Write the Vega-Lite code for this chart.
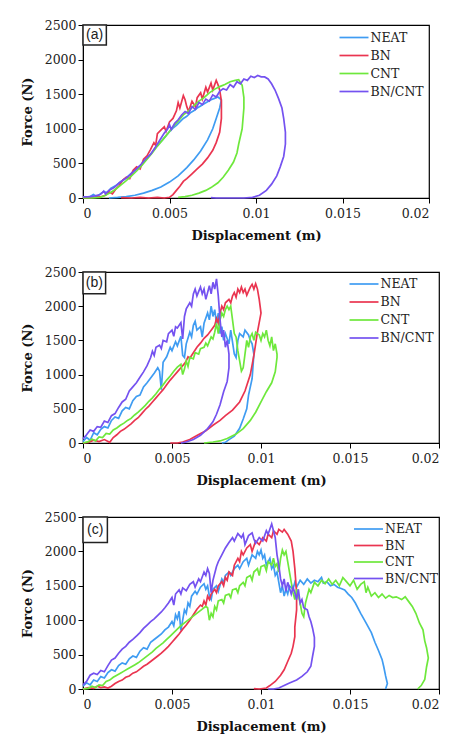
{
"$schema": "https://vega.github.io/schema/vega-lite/v6.json",
"background": "white",
"padding": {"left": 20, "top": 18, "right": 5, "bottom": 5},
"config": {
  "font": "DejaVu Serif",
  "view": {"stroke": "black", "strokeWidth": 1.2},
  "axis": {"grid": false, "labelFont": "DejaVu Serif", "labelFontSize": 12.5, "labelColor": "#222", "labelOverlap": false, "titleFont": "DejaVu Serif", "titleFontSize": 13, "titleFontWeight": "bold", "titleColor": "#111", "domainColor": "black", "tickColor": "black", "tickSize": 5},
  "axisX": {"titlePadding": 10, "labelPadding": 4},
  "axisY": {"titlePadding": 10, "labelPadding": 2},
  "legend": {"orient": "none", "title": null, "symbolType": "M-1.45,0H1.45", "symbolSize": 400, "symbolStrokeWidth": 2.5, "labelFont": "DejaVu Serif", "labelFontSize": 12.5, "labelColor": "#222", "rowPadding": 0, "symbolOffset": 0, "labelOffset": 5.5},
  "line": {"strokeWidth": 1.7}
},
"datasets": {
"a": [
{"s":"NEAT","x":0,"y":10},{"s":"NEAT","x":0.0004,"y":20},{"s":"NEAT","x":0.0006,"y":50},{"s":"NEAT","x":0.0008,"y":20},{"s":"NEAT","x":0.001,"y":60},{"s":"NEAT","x":0.0012,"y":90},{"s":"NEAT","x":0.0014,"y":80},{"s":"NEAT","x":0.0016,"y":140},{"s":"NEAT","x":0.0019,"y":180},{"s":"NEAT","x":0.0022,"y":240},{"s":"NEAT","x":0.0025,"y":290},{"s":"NEAT","x":0.0028,"y":360},{"s":"NEAT","x":0.0031,"y":420},{"s":"NEAT","x":0.0034,"y":490},{"s":"NEAT","x":0.0037,"y":570},{"s":"NEAT","x":0.004,"y":660},{"s":"NEAT","x":0.0043,"y":760},{"s":"NEAT","x":0.0046,"y":840},{"s":"NEAT","x":0.0048,"y":900},{"s":"NEAT","x":0.005,"y":960},{"s":"NEAT","x":0.0052,"y":1010},{"s":"NEAT","x":0.0054,"y":1050},{"s":"NEAT","x":0.0056,"y":1100},{"s":"NEAT","x":0.0058,"y":1150},{"s":"NEAT","x":0.006,"y":1180},{"s":"NEAT","x":0.0062,"y":1230},{"s":"NEAT","x":0.0064,"y":1260},{"s":"NEAT","x":0.0066,"y":1300},{"s":"NEAT","x":0.0068,"y":1330},{"s":"NEAT","x":0.007,"y":1360},{"s":"NEAT","x":0.0072,"y":1390},{"s":"NEAT","x":0.0074,"y":1420},{"s":"NEAT","x":0.0076,"y":1440},{"s":"NEAT","x":0.0078,"y":1460},{"s":"NEAT","x":0.008,"y":1420},{"s":"NEAT","x":0.0079,"y":1300},{"s":"NEAT","x":0.0077,"y":1150},{"s":"NEAT","x":0.0075,"y":1000},{"s":"NEAT","x":0.0072,"y":840},{"s":"NEAT","x":0.0068,"y":680},{"s":"NEAT","x":0.0064,"y":550},{"s":"NEAT","x":0.006,"y":440},{"s":"NEAT","x":0.0055,"y":320},{"s":"NEAT","x":0.005,"y":230},{"s":"NEAT","x":0.0045,"y":160},{"s":"NEAT","x":0.004,"y":110},{"s":"NEAT","x":0.0035,"y":70},{"s":"NEAT","x":0.003,"y":40},{"s":"NEAT","x":0.0025,"y":20},{"s":"NEAT","x":0.002,"y":8},{"s":"NEAT","x":0.0015,"y":0},
{"s":"BN","x":0,"y":0},{"s":"BN","x":0.0005,"y":5},{"s":"BN","x":0.001,"y":15},{"s":"BN","x":0.0013,"y":40},{"s":"BN","x":0.0015,"y":90},{"s":"BN","x":0.0017,"y":60},{"s":"BN","x":0.0019,"y":130},{"s":"BN","x":0.0021,"y":180},{"s":"BN","x":0.0023,"y":260},{"s":"BN","x":0.0025,"y":300},{"s":"BN","x":0.0027,"y":280},{"s":"BN","x":0.0029,"y":400},{"s":"BN","x":0.0031,"y":450},{"s":"BN","x":0.0033,"y":420},{"s":"BN","x":0.0035,"y":560},{"s":"BN","x":0.0037,"y":610},{"s":"BN","x":0.0039,"y":700},{"s":"BN","x":0.0041,"y":800},{"s":"BN","x":0.0042,"y":760},{"s":"BN","x":0.0043,"y":930},{"s":"BN","x":0.0045,"y":980},{"s":"BN","x":0.0047,"y":1030},{"s":"BN","x":0.0048,"y":960},{"s":"BN","x":0.005,"y":1100},{"s":"BN","x":0.0052,"y":1150},{"s":"BN","x":0.0054,"y":1260},{"s":"BN","x":0.0055,"y":1380},{"s":"BN","x":0.0056,"y":1300},{"s":"BN","x":0.0058,"y":1480},{"s":"BN","x":0.0059,"y":1420},{"s":"BN","x":0.006,"y":1320},{"s":"BN","x":0.0061,"y":1250},{"s":"BN","x":0.0063,"y":1400},{"s":"BN","x":0.0065,"y":1320},{"s":"BN","x":0.0066,"y":1450},{"s":"BN","x":0.0068,"y":1520},{"s":"BN","x":0.0069,"y":1430},{"s":"BN","x":0.0071,"y":1600},{"s":"BN","x":0.0072,"y":1530},{"s":"BN","x":0.0074,"y":1660},{"s":"BN","x":0.0075,"y":1560},{"s":"BN","x":0.0077,"y":1700},{"s":"BN","x":0.0078,"y":1640},{"s":"BN","x":0.0079,"y":1560},{"s":"BN","x":0.008,"y":1400},{"s":"BN","x":0.008,"y":1150},{"s":"BN","x":0.0079,"y":950},{"s":"BN","x":0.0077,"y":800},{"s":"BN","x":0.0075,"y":690},{"s":"BN","x":0.0072,"y":580},{"s":"BN","x":0.0069,"y":490},{"s":"BN","x":0.0066,"y":420},{"s":"BN","x":0.0063,"y":350},{"s":"BN","x":0.006,"y":280},{"s":"BN","x":0.0058,"y":240},{"s":"BN","x":0.0056,"y":170},{"s":"BN","x":0.0054,"y":110},{"s":"BN","x":0.0052,"y":50},{"s":"BN","x":0.005,"y":10},{"s":"BN","x":0.0047,"y":0},{"s":"BN","x":0.0043,"y":8},{"s":"BN","x":0.0038,"y":0},{"s":"BN","x":0.0033,"y":10},{"s":"BN","x":0.0028,"y":0},{"s":"BN","x":0.0022,"y":5},
{"s":"CNT","x":0,"y":0},{"s":"CNT","x":0.0005,"y":0},{"s":"CNT","x":0.001,"y":10},{"s":"CNT","x":0.0013,"y":40},{"s":"CNT","x":0.0016,"y":80},{"s":"CNT","x":0.0019,"y":130},{"s":"CNT","x":0.0022,"y":190},{"s":"CNT","x":0.0025,"y":250},{"s":"CNT","x":0.0028,"y":320},{"s":"CNT","x":0.0031,"y":390},{"s":"CNT","x":0.0034,"y":470},{"s":"CNT","x":0.0037,"y":560},{"s":"CNT","x":0.004,"y":650},{"s":"CNT","x":0.0043,"y":750},{"s":"CNT","x":0.0046,"y":840},{"s":"CNT","x":0.0049,"y":930},{"s":"CNT","x":0.0052,"y":1030},{"s":"CNT","x":0.0055,"y":1110},{"s":"CNT","x":0.0058,"y":1200},{"s":"CNT","x":0.0061,"y":1260},{"s":"CNT","x":0.0064,"y":1330},{"s":"CNT","x":0.0067,"y":1400},{"s":"CNT","x":0.007,"y":1450},{"s":"CNT","x":0.0073,"y":1520},{"s":"CNT","x":0.0076,"y":1570},{"s":"CNT","x":0.0079,"y":1610},{"s":"CNT","x":0.0082,"y":1640},{"s":"CNT","x":0.0085,"y":1680},{"s":"CNT","x":0.0088,"y":1700},{"s":"CNT","x":0.009,"y":1710},{"s":"CNT","x":0.0092,"y":1630},{"s":"CNT","x":0.0093,"y":1450},{"s":"CNT","x":0.0093,"y":1300},{"s":"CNT","x":0.0092,"y":1000},{"s":"CNT","x":0.009,"y":780},{"s":"CNT","x":0.0089,"y":650},{"s":"CNT","x":0.0087,"y":520},{"s":"CNT","x":0.0084,"y":400},{"s":"CNT","x":0.0081,"y":300},{"s":"CNT","x":0.0078,"y":220},{"s":"CNT","x":0.0074,"y":150},{"s":"CNT","x":0.0071,"y":110},{"s":"CNT","x":0.0067,"y":70},{"s":"CNT","x":0.0063,"y":40},{"s":"CNT","x":0.0059,"y":20},{"s":"CNT","x":0.0055,"y":10},
{"s":"BN/CNT","x":0,"y":15},{"s":"BN/CNT","x":0.0004,"y":20},{"s":"BN/CNT","x":0.0007,"y":30},{"s":"BN/CNT","x":0.001,"y":50},{"s":"BN/CNT","x":0.0012,"y":100},{"s":"BN/CNT","x":0.0013,"y":60},{"s":"BN/CNT","x":0.0015,"y":110},{"s":"BN/CNT","x":0.0018,"y":150},{"s":"BN/CNT","x":0.0021,"y":220},{"s":"BN/CNT","x":0.0024,"y":270},{"s":"BN/CNT","x":0.0027,"y":330},{"s":"BN/CNT","x":0.003,"y":400},{"s":"BN/CNT","x":0.0033,"y":470},{"s":"BN/CNT","x":0.0036,"y":560},{"s":"BN/CNT","x":0.0039,"y":630},{"s":"BN/CNT","x":0.0042,"y":740},{"s":"BN/CNT","x":0.0045,"y":860},{"s":"BN/CNT","x":0.0047,"y":940},{"s":"BN/CNT","x":0.0049,"y":1000},{"s":"BN/CNT","x":0.005,"y":1060},{"s":"BN/CNT","x":0.0051,"y":990},{"s":"BN/CNT","x":0.0053,"y":1080},{"s":"BN/CNT","x":0.0055,"y":1130},{"s":"BN/CNT","x":0.0057,"y":1200},{"s":"BN/CNT","x":0.0059,"y":1250},{"s":"BN/CNT","x":0.0061,"y":1220},{"s":"BN/CNT","x":0.0063,"y":1320},{"s":"BN/CNT","x":0.0065,"y":1280},{"s":"BN/CNT","x":0.0067,"y":1380},{"s":"BN/CNT","x":0.0069,"y":1350},{"s":"BN/CNT","x":0.0071,"y":1430},{"s":"BN/CNT","x":0.0073,"y":1400},{"s":"BN/CNT","x":0.0075,"y":1490},{"s":"BN/CNT","x":0.0077,"y":1460},{"s":"BN/CNT","x":0.0079,"y":1540},{"s":"BN/CNT","x":0.0081,"y":1580},{"s":"BN/CNT","x":0.0083,"y":1560},{"s":"BN/CNT","x":0.0085,"y":1640},{"s":"BN/CNT","x":0.0087,"y":1600},{"s":"BN/CNT","x":0.0089,"y":1680},{"s":"BN/CNT","x":0.0091,"y":1650},{"s":"BN/CNT","x":0.0093,"y":1720},{"s":"BN/CNT","x":0.0095,"y":1700},{"s":"BN/CNT","x":0.0097,"y":1760},{"s":"BN/CNT","x":0.0099,"y":1740},{"s":"BN/CNT","x":0.0101,"y":1770},{"s":"BN/CNT","x":0.0103,"y":1750},{"s":"BN/CNT","x":0.0105,"y":1750},{"s":"BN/CNT","x":0.0107,"y":1720},{"s":"BN/CNT","x":0.0109,"y":1650},{"s":"BN/CNT","x":0.0111,"y":1560},{"s":"BN/CNT","x":0.0113,"y":1440},{"s":"BN/CNT","x":0.0115,"y":1300},{"s":"BN/CNT","x":0.0116,"y":1150},{"s":"BN/CNT","x":0.0117,"y":950},{"s":"BN/CNT","x":0.0117,"y":780},{"s":"BN/CNT","x":0.0116,"y":600},{"s":"BN/CNT","x":0.0114,"y":450},{"s":"BN/CNT","x":0.0112,"y":320},{"s":"BN/CNT","x":0.0109,"y":200},{"s":"BN/CNT","x":0.0106,"y":110},{"s":"BN/CNT","x":0.0102,"y":40},{"s":"BN/CNT","x":0.0098,"y":10},{"s":"BN/CNT","x":0.0093,"y":0},{"s":"BN/CNT","x":0.0085,"y":0},{"s":"BN/CNT","x":0.0077,"y":0},{"s":"BN/CNT","x":0.0074,"y":5}
],
"b": [
{"s":"NEAT","x":0,"y":20},{"s":"NEAT","x":0.0002,"y":80},{"s":"NEAT","x":0.0004,"y":40},{"s":"NEAT","x":0.0006,"y":150},{"s":"NEAT","x":0.0008,"y":120},{"s":"NEAT","x":0.001,"y":200},{"s":"NEAT","x":0.0012,"y":240},{"s":"NEAT","x":0.0014,"y":220},{"s":"NEAT","x":0.0016,"y":330},{"s":"NEAT","x":0.0018,"y":380},{"s":"NEAT","x":0.002,"y":360},{"s":"NEAT","x":0.0022,"y":470},{"s":"NEAT","x":0.0024,"y":520},{"s":"NEAT","x":0.0026,"y":500},{"s":"NEAT","x":0.0028,"y":620},{"s":"NEAT","x":0.003,"y":680},{"s":"NEAT","x":0.0032,"y":700},{"s":"NEAT","x":0.0034,"y":820},{"s":"NEAT","x":0.0036,"y":880},{"s":"NEAT","x":0.0038,"y":950},{"s":"NEAT","x":0.004,"y":1020},{"s":"NEAT","x":0.0042,"y":1100},{"s":"NEAT","x":0.0043,"y":1050},{"s":"NEAT","x":0.0044,"y":780},{"s":"NEAT","x":0.0045,"y":1180},{"s":"NEAT","x":0.0047,"y":1260},{"s":"NEAT","x":0.0049,"y":1400},{"s":"NEAT","x":0.005,"y":1350},{"s":"NEAT","x":0.0052,"y":1480},{"s":"NEAT","x":0.0053,"y":1420},{"s":"NEAT","x":0.0055,"y":1560},{"s":"NEAT","x":0.0056,"y":1280},{"s":"NEAT","x":0.0057,"y":1250},{"s":"NEAT","x":0.0058,"y":1450},{"s":"NEAT","x":0.006,"y":1620},{"s":"NEAT","x":0.0061,"y":1550},{"s":"NEAT","x":0.0062,"y":1720},{"s":"NEAT","x":0.0063,"y":1780},{"s":"NEAT","x":0.0064,"y":1650},{"s":"NEAT","x":0.0066,"y":1700},{"s":"NEAT","x":0.0067,"y":1550},{"s":"NEAT","x":0.0068,"y":1750},{"s":"NEAT","x":0.007,"y":1900},{"s":"NEAT","x":0.0071,"y":1800},{"s":"NEAT","x":0.0072,"y":2000},{"s":"NEAT","x":0.0073,"y":1850},{"s":"NEAT","x":0.0074,"y":1950},{"s":"NEAT","x":0.0075,"y":1750},{"s":"NEAT","x":0.0076,"y":1900},{"s":"NEAT","x":0.0077,"y":1600},{"s":"NEAT","x":0.0078,"y":1700},{"s":"NEAT","x":0.0079,"y":1500},{"s":"NEAT","x":0.008,"y":1600},{"s":"NEAT","x":0.0082,"y":1450},{"s":"NEAT","x":0.0083,"y":1650},{"s":"NEAT","x":0.0085,"y":1300},{"s":"NEAT","x":0.0086,"y":1250},{"s":"NEAT","x":0.0087,"y":1500},{"s":"NEAT","x":0.0088,"y":1600},{"s":"NEAT","x":0.009,"y":1550},{"s":"NEAT","x":0.0091,"y":1650},{"s":"NEAT","x":0.0093,"y":1580},{"s":"NEAT","x":0.0094,"y":1500},{"s":"NEAT","x":0.0095,"y":1450},{"s":"NEAT","x":0.0096,"y":1300},{"s":"NEAT","x":0.0095,"y":940},{"s":"NEAT","x":0.0093,"y":700},{"s":"NEAT","x":0.0092,"y":500},{"s":"NEAT","x":0.009,"y":350},{"s":"NEAT","x":0.0088,"y":215},{"s":"NEAT","x":0.0085,"y":100},{"s":"NEAT","x":0.0082,"y":50},{"s":"NEAT","x":0.008,"y":10},{"s":"NEAT","x":0.0078,"y":0},
{"s":"BN","x":0,"y":0},{"s":"BN","x":0.0003,"y":10},{"s":"BN","x":0.0006,"y":40},{"s":"BN","x":0.0009,"y":20},{"s":"BN","x":0.0012,"y":50},{"s":"BN","x":0.0015,"y":10},{"s":"BN","x":0.0017,"y":80},{"s":"BN","x":0.0019,"y":120},{"s":"BN","x":0.0021,"y":170},{"s":"BN","x":0.0023,"y":200},{"s":"BN","x":0.0025,"y":240},{"s":"BN","x":0.0027,"y":280},{"s":"BN","x":0.0029,"y":330},{"s":"BN","x":0.0031,"y":370},{"s":"BN","x":0.0033,"y":430},{"s":"BN","x":0.0035,"y":490},{"s":"BN","x":0.0037,"y":540},{"s":"BN","x":0.0039,"y":600},{"s":"BN","x":0.0041,"y":660},{"s":"BN","x":0.0043,"y":720},{"s":"BN","x":0.0045,"y":780},{"s":"BN","x":0.0047,"y":850},{"s":"BN","x":0.0049,"y":920},{"s":"BN","x":0.0051,"y":980},{"s":"BN","x":0.0053,"y":1040},{"s":"BN","x":0.0055,"y":1100},{"s":"BN","x":0.0057,"y":1160},{"s":"BN","x":0.0058,"y":1200},{"s":"BN","x":0.0059,"y":1260},{"s":"BN","x":0.006,"y":1240},{"s":"BN","x":0.0062,"y":1320},{"s":"BN","x":0.0064,"y":1400},{"s":"BN","x":0.0066,"y":1460},{"s":"BN","x":0.0068,"y":1530},{"s":"BN","x":0.007,"y":1580},{"s":"BN","x":0.0072,"y":1650},{"s":"BN","x":0.0074,"y":1720},{"s":"BN","x":0.0075,"y":1820},{"s":"BN","x":0.0076,"y":1750},{"s":"BN","x":0.0077,"y":1900},{"s":"BN","x":0.0078,"y":2000},{"s":"BN","x":0.0079,"y":1950},{"s":"BN","x":0.008,"y":2050},{"s":"BN","x":0.0082,"y":2100},{"s":"BN","x":0.0083,"y":2050},{"s":"BN","x":0.0084,"y":2150},{"s":"BN","x":0.0085,"y":2200},{"s":"BN","x":0.0086,"y":2130},{"s":"BN","x":0.0087,"y":2250},{"s":"BN","x":0.0088,"y":2200},{"s":"BN","x":0.0089,"y":2280},{"s":"BN","x":0.009,"y":2200},{"s":"BN","x":0.0091,"y":2250},{"s":"BN","x":0.0092,"y":2160},{"s":"BN","x":0.0093,"y":2220},{"s":"BN","x":0.0094,"y":2280},{"s":"BN","x":0.0095,"y":2320},{"s":"BN","x":0.0096,"y":2250},{"s":"BN","x":0.0097,"y":2330},{"s":"BN","x":0.0098,"y":2250},{"s":"BN","x":0.0099,"y":2100},{"s":"BN","x":0.01,"y":1900},{"s":"BN","x":0.0098,"y":1620},{"s":"BN","x":0.0096,"y":1280},{"s":"BN","x":0.0094,"y":1000},{"s":"BN","x":0.0091,"y":760},{"s":"BN","x":0.0088,"y":600},{"s":"BN","x":0.0084,"y":480},{"s":"BN","x":0.008,"y":400},{"s":"BN","x":0.0077,"y":330},{"s":"BN","x":0.0073,"y":260},{"s":"BN","x":0.0069,"y":180},{"s":"BN","x":0.0064,"y":110},{"s":"BN","x":0.006,"y":50},{"s":"BN","x":0.0056,"y":15},{"s":"BN","x":0.0053,"y":0},{"s":"BN","x":0.0049,"y":0},
{"s":"CNT","x":0,"y":0},{"s":"CNT","x":0.0003,"y":20},{"s":"CNT","x":0.0005,"y":60},{"s":"CNT","x":0.0007,"y":30},{"s":"CNT","x":0.0009,"y":90},{"s":"CNT","x":0.0011,"y":80},{"s":"CNT","x":0.0013,"y":140},{"s":"CNT","x":0.0015,"y":130},{"s":"CNT","x":0.0017,"y":190},{"s":"CNT","x":0.0019,"y":220},{"s":"CNT","x":0.0021,"y":260},{"s":"CNT","x":0.0023,"y":290},{"s":"CNT","x":0.0025,"y":330},{"s":"CNT","x":0.0027,"y":360},{"s":"CNT","x":0.0029,"y":410},{"s":"CNT","x":0.0031,"y":450},{"s":"CNT","x":0.0033,"y":500},{"s":"CNT","x":0.0035,"y":550},{"s":"CNT","x":0.0037,"y":610},{"s":"CNT","x":0.0039,"y":660},{"s":"CNT","x":0.0041,"y":720},{"s":"CNT","x":0.0043,"y":790},{"s":"CNT","x":0.0045,"y":850},{"s":"CNT","x":0.0047,"y":920},{"s":"CNT","x":0.0049,"y":980},{"s":"CNT","x":0.0051,"y":1050},{"s":"CNT","x":0.0053,"y":1110},{"s":"CNT","x":0.0055,"y":1150},{"s":"CNT","x":0.0056,"y":1000},{"s":"CNT","x":0.0057,"y":1080},{"s":"CNT","x":0.0058,"y":1200},{"s":"CNT","x":0.0059,"y":1120},{"s":"CNT","x":0.006,"y":1250},{"s":"CNT","x":0.0062,"y":1230},{"s":"CNT","x":0.0063,"y":1320},{"s":"CNT","x":0.0065,"y":1300},{"s":"CNT","x":0.0066,"y":1380},{"s":"CNT","x":0.0068,"y":1400},{"s":"CNT","x":0.0069,"y":1460},{"s":"CNT","x":0.007,"y":1420},{"s":"CNT","x":0.0072,"y":1550},{"s":"CNT","x":0.0073,"y":1520},{"s":"CNT","x":0.0074,"y":1620},{"s":"CNT","x":0.0075,"y":1750},{"s":"CNT","x":0.0076,"y":1600},{"s":"CNT","x":0.0077,"y":1800},{"s":"CNT","x":0.0078,"y":1900},{"s":"CNT","x":0.0079,"y":1850},{"s":"CNT","x":0.008,"y":1950},{"s":"CNT","x":0.0081,"y":2000},{"s":"CNT","x":0.0082,"y":1950},{"s":"CNT","x":0.0083,"y":2000},{"s":"CNT","x":0.0084,"y":1800},{"s":"CNT","x":0.0085,"y":1600},{"s":"CNT","x":0.0086,"y":1550},{"s":"CNT","x":0.0087,"y":1350},{"s":"CNT","x":0.0088,"y":1200},{"s":"CNT","x":0.0089,"y":1050},{"s":"CNT","x":0.009,"y":1100},{"s":"CNT","x":0.0091,"y":1300},{"s":"CNT","x":0.0092,"y":1500},{"s":"CNT","x":0.0093,"y":1400},{"s":"CNT","x":0.0094,"y":1550},{"s":"CNT","x":0.0095,"y":1600},{"s":"CNT","x":0.0096,"y":1500},{"s":"CNT","x":0.0097,"y":1620},{"s":"CNT","x":0.0099,"y":1580},{"s":"CNT","x":0.01,"y":1500},{"s":"CNT","x":0.0101,"y":1600},{"s":"CNT","x":0.0102,"y":1550},{"s":"CNT","x":0.0103,"y":1650},{"s":"CNT","x":0.0104,"y":1500},{"s":"CNT","x":0.0105,"y":1420},{"s":"CNT","x":0.0106,"y":1550},{"s":"CNT","x":0.0107,"y":1350},{"s":"CNT","x":0.0108,"y":1450},{"s":"CNT","x":0.0109,"y":1300},{"s":"CNT","x":0.0109,"y":1250},{"s":"CNT","x":0.0108,"y":1040},{"s":"CNT","x":0.0106,"y":880},{"s":"CNT","x":0.0103,"y":750},{"s":"CNT","x":0.01,"y":600},{"s":"CNT","x":0.0097,"y":450},{"s":"CNT","x":0.0094,"y":330},{"s":"CNT","x":0.009,"y":210},{"s":"CNT","x":0.0086,"y":130},{"s":"CNT","x":0.0081,"y":65},{"s":"CNT","x":0.0077,"y":30},{"s":"CNT","x":0.0073,"y":15},{"s":"CNT","x":0.0068,"y":0},
{"s":"BN/CNT","x":0,"y":60},{"s":"BN/CNT","x":0.0002,"y":120},{"s":"BN/CNT","x":0.0004,"y":190},{"s":"BN/CNT","x":0.0006,"y":170},{"s":"BN/CNT","x":0.0008,"y":240},{"s":"BN/CNT","x":0.001,"y":230},{"s":"BN/CNT","x":0.0012,"y":320},{"s":"BN/CNT","x":0.0014,"y":300},{"s":"BN/CNT","x":0.0016,"y":400},{"s":"BN/CNT","x":0.0018,"y":430},{"s":"BN/CNT","x":0.002,"y":520},{"s":"BN/CNT","x":0.0022,"y":600},{"s":"BN/CNT","x":0.0024,"y":640},{"s":"BN/CNT","x":0.0026,"y":760},{"s":"BN/CNT","x":0.0028,"y":820},{"s":"BN/CNT","x":0.003,"y":880},{"s":"BN/CNT","x":0.0032,"y":960},{"s":"BN/CNT","x":0.0034,"y":1040},{"s":"BN/CNT","x":0.0036,"y":1130},{"s":"BN/CNT","x":0.0038,"y":1250},{"s":"BN/CNT","x":0.0039,"y":1340},{"s":"BN/CNT","x":0.004,"y":1280},{"s":"BN/CNT","x":0.0041,"y":1400},{"s":"BN/CNT","x":0.0043,"y":1430},{"s":"BN/CNT","x":0.0044,"y":1380},{"s":"BN/CNT","x":0.0045,"y":1500},{"s":"BN/CNT","x":0.0047,"y":1480},{"s":"BN/CNT","x":0.0048,"y":1600},{"s":"BN/CNT","x":0.005,"y":1650},{"s":"BN/CNT","x":0.0051,"y":1560},{"s":"BN/CNT","x":0.0052,"y":1700},{"s":"BN/CNT","x":0.0053,"y":1680},{"s":"BN/CNT","x":0.0055,"y":1760},{"s":"BN/CNT","x":0.0056,"y":1520},{"s":"BN/CNT","x":0.0057,"y":1850},{"s":"BN/CNT","x":0.0058,"y":1960},{"s":"BN/CNT","x":0.006,"y":2050},{"s":"BN/CNT","x":0.0061,"y":2000},{"s":"BN/CNT","x":0.0062,"y":2180},{"s":"BN/CNT","x":0.0063,"y":2250},{"s":"BN/CNT","x":0.0064,"y":2150},{"s":"BN/CNT","x":0.0066,"y":2280},{"s":"BN/CNT","x":0.0067,"y":2180},{"s":"BN/CNT","x":0.0068,"y":2250},{"s":"BN/CNT","x":0.0069,"y":2100},{"s":"BN/CNT","x":0.0071,"y":2300},{"s":"BN/CNT","x":0.0072,"y":2180},{"s":"BN/CNT","x":0.0073,"y":2350},{"s":"BN/CNT","x":0.0074,"y":2250},{"s":"BN/CNT","x":0.0075,"y":2400},{"s":"BN/CNT","x":0.0076,"y":2150},{"s":"BN/CNT","x":0.0077,"y":1800},{"s":"BN/CNT","x":0.0078,"y":1550},{"s":"BN/CNT","x":0.0079,"y":1650},{"s":"BN/CNT","x":0.008,"y":1400},{"s":"BN/CNT","x":0.0081,"y":1500},{"s":"BN/CNT","x":0.0082,"y":1300},{"s":"BN/CNT","x":0.0082,"y":1100},{"s":"BN/CNT","x":0.0081,"y":900},{"s":"BN/CNT","x":0.0079,"y":750},{"s":"BN/CNT","x":0.0077,"y":560},{"s":"BN/CNT","x":0.0075,"y":420},{"s":"BN/CNT","x":0.0073,"y":310},{"s":"BN/CNT","x":0.007,"y":210},{"s":"BN/CNT","x":0.0066,"y":113},{"s":"BN/CNT","x":0.0062,"y":50},{"s":"BN/CNT","x":0.0058,"y":15},{"s":"BN/CNT","x":0.0055,"y":0}
],
"c": [
{"s":"NEAT","x":0,"y":40},{"s":"NEAT","x":0.0002,"y":90},{"s":"NEAT","x":0.0004,"y":60},{"s":"NEAT","x":0.0006,"y":130},{"s":"NEAT","x":0.0008,"y":110},{"s":"NEAT","x":0.001,"y":180},{"s":"NEAT","x":0.0012,"y":160},{"s":"NEAT","x":0.0014,"y":240},{"s":"NEAT","x":0.0016,"y":280},{"s":"NEAT","x":0.0018,"y":260},{"s":"NEAT","x":0.002,"y":340},{"s":"NEAT","x":0.0022,"y":380},{"s":"NEAT","x":0.0024,"y":360},{"s":"NEAT","x":0.0026,"y":440},{"s":"NEAT","x":0.0028,"y":480},{"s":"NEAT","x":0.003,"y":460},{"s":"NEAT","x":0.0032,"y":550},{"s":"NEAT","x":0.0034,"y":600},{"s":"NEAT","x":0.0036,"y":580},{"s":"NEAT","x":0.0038,"y":680},{"s":"NEAT","x":0.004,"y":720},{"s":"NEAT","x":0.0042,"y":760},{"s":"NEAT","x":0.0044,"y":800},{"s":"NEAT","x":0.0046,"y":860},{"s":"NEAT","x":0.0048,"y":900},{"s":"NEAT","x":0.005,"y":980},{"s":"NEAT","x":0.0051,"y":920},{"s":"NEAT","x":0.0052,"y":1080},{"s":"NEAT","x":0.0053,"y":1020},{"s":"NEAT","x":0.0054,"y":1130},{"s":"NEAT","x":0.0055,"y":850},{"s":"NEAT","x":0.0056,"y":1000},{"s":"NEAT","x":0.0057,"y":1150},{"s":"NEAT","x":0.0058,"y":1100},{"s":"NEAT","x":0.0059,"y":1250},{"s":"NEAT","x":0.006,"y":1200},{"s":"NEAT","x":0.0061,"y":1350},{"s":"NEAT","x":0.0063,"y":1420},{"s":"NEAT","x":0.0064,"y":1380},{"s":"NEAT","x":0.0066,"y":1480},{"s":"NEAT","x":0.0068,"y":1530},{"s":"NEAT","x":0.0069,"y":1450},{"s":"NEAT","x":0.007,"y":1500},{"s":"NEAT","x":0.0071,"y":1350},{"s":"NEAT","x":0.0072,"y":1300},{"s":"NEAT","x":0.0073,"y":1450},{"s":"NEAT","x":0.0075,"y":1500},{"s":"NEAT","x":0.0076,"y":1420},{"s":"NEAT","x":0.0078,"y":1600},{"s":"NEAT","x":0.0079,"y":1550},{"s":"NEAT","x":0.008,"y":1650},{"s":"NEAT","x":0.0082,"y":1700},{"s":"NEAT","x":0.0083,"y":1650},{"s":"NEAT","x":0.0085,"y":1750},{"s":"NEAT","x":0.0087,"y":1800},{"s":"NEAT","x":0.0088,"y":1750},{"s":"NEAT","x":0.009,"y":1850},{"s":"NEAT","x":0.0092,"y":1900},{"s":"NEAT","x":0.0093,"y":1800},{"s":"NEAT","x":0.0095,"y":1950},{"s":"NEAT","x":0.0097,"y":1900},{"s":"NEAT","x":0.0098,"y":2000},{"s":"NEAT","x":0.0099,"y":1950},{"s":"NEAT","x":0.01,"y":2020},{"s":"NEAT","x":0.0101,"y":1900},{"s":"NEAT","x":0.0102,"y":1950},{"s":"NEAT","x":0.0103,"y":1800},{"s":"NEAT","x":0.0105,"y":1900},{"s":"NEAT","x":0.0106,"y":1750},{"s":"NEAT","x":0.0107,"y":1800},{"s":"NEAT","x":0.0108,"y":1650},{"s":"NEAT","x":0.0109,"y":1700},{"s":"NEAT","x":0.011,"y":1550},{"s":"NEAT","x":0.0111,"y":1400},{"s":"NEAT","x":0.0112,"y":1500},{"s":"NEAT","x":0.0113,"y":1350},{"s":"NEAT","x":0.0114,"y":1450},{"s":"NEAT","x":0.0115,"y":1380},{"s":"NEAT","x":0.0116,"y":1500},{"s":"NEAT","x":0.0118,"y":1450},{"s":"NEAT","x":0.0119,"y":1550},{"s":"NEAT","x":0.012,"y":1480},{"s":"NEAT","x":0.0122,"y":1580},{"s":"NEAT","x":0.0124,"y":1520},{"s":"NEAT","x":0.0126,"y":1600},{"s":"NEAT","x":0.0128,"y":1540},{"s":"NEAT","x":0.013,"y":1580},{"s":"NEAT","x":0.0132,"y":1560},{"s":"NEAT","x":0.0134,"y":1620},{"s":"NEAT","x":0.0135,"y":1540},{"s":"NEAT","x":0.0137,"y":1560},{"s":"NEAT","x":0.0139,"y":1500},{"s":"NEAT","x":0.0141,"y":1520},{"s":"NEAT","x":0.0143,"y":1480},{"s":"NEAT","x":0.0145,"y":1460},{"s":"NEAT","x":0.0147,"y":1440},{"s":"NEAT","x":0.0149,"y":1380},{"s":"NEAT","x":0.0151,"y":1330},{"s":"NEAT","x":0.0153,"y":1250},{"s":"NEAT","x":0.0156,"y":1100},{"s":"NEAT","x":0.0159,"y":960},{"s":"NEAT","x":0.0162,"y":820},{"s":"NEAT","x":0.0164,"y":680},{"s":"NEAT","x":0.0166,"y":560},{"s":"NEAT","x":0.0168,"y":430},{"s":"NEAT","x":0.0169,"y":320},{"s":"NEAT","x":0.017,"y":190},{"s":"NEAT","x":0.0171,"y":80},{"s":"NEAT","x":0.017,"y":0},
{"s":"BN","x":0,"y":0},{"s":"BN","x":0.0003,"y":20},{"s":"BN","x":0.0006,"y":10},{"s":"BN","x":0.0008,"y":40},{"s":"BN","x":0.001,"y":20},{"s":"BN","x":0.0012,"y":30},{"s":"BN","x":0.0014,"y":15},{"s":"BN","x":0.0016,"y":40},{"s":"BN","x":0.0018,"y":80},{"s":"BN","x":0.002,"y":110},{"s":"BN","x":0.0022,"y":130},{"s":"BN","x":0.0024,"y":170},{"s":"BN","x":0.0026,"y":190},{"s":"BN","x":0.0028,"y":230},{"s":"BN","x":0.003,"y":250},{"s":"BN","x":0.0032,"y":290},{"s":"BN","x":0.0034,"y":330},{"s":"BN","x":0.0036,"y":360},{"s":"BN","x":0.0038,"y":400},{"s":"BN","x":0.004,"y":440},{"s":"BN","x":0.0042,"y":480},{"s":"BN","x":0.0044,"y":520},{"s":"BN","x":0.0046,"y":570},{"s":"BN","x":0.0048,"y":620},{"s":"BN","x":0.005,"y":680},{"s":"BN","x":0.0052,"y":740},{"s":"BN","x":0.0054,"y":800},{"s":"BN","x":0.0056,"y":870},{"s":"BN","x":0.0058,"y":930},{"s":"BN","x":0.006,"y":1000},{"s":"BN","x":0.0062,"y":1080},{"s":"BN","x":0.0064,"y":1160},{"s":"BN","x":0.0066,"y":1220},{"s":"BN","x":0.0067,"y":1200},{"s":"BN","x":0.0068,"y":1280},{"s":"BN","x":0.0069,"y":1220},{"s":"BN","x":0.007,"y":1350},{"s":"BN","x":0.0071,"y":1300},{"s":"BN","x":0.0072,"y":1380},{"s":"BN","x":0.0074,"y":1450},{"s":"BN","x":0.0075,"y":1400},{"s":"BN","x":0.0076,"y":1500},{"s":"BN","x":0.0078,"y":1560},{"s":"BN","x":0.0079,"y":1500},{"s":"BN","x":0.008,"y":1620},{"s":"BN","x":0.0081,"y":1580},{"s":"BN","x":0.0082,"y":1700},{"s":"BN","x":0.0084,"y":1650},{"s":"BN","x":0.0085,"y":1800},{"s":"BN","x":0.0087,"y":1900},{"s":"BN","x":0.0088,"y":1850},{"s":"BN","x":0.0089,"y":2000},{"s":"BN","x":0.009,"y":1950},{"s":"BN","x":0.0092,"y":2050},{"s":"BN","x":0.0094,"y":2100},{"s":"BN","x":0.0095,"y":2000},{"s":"BN","x":0.0097,"y":2150},{"s":"BN","x":0.0099,"y":2100},{"s":"BN","x":0.0101,"y":2200},{"s":"BN","x":0.0103,"y":2150},{"s":"BN","x":0.0104,"y":2250},{"s":"BN","x":0.0106,"y":2200},{"s":"BN","x":0.0107,"y":2300},{"s":"BN","x":0.0109,"y":2250},{"s":"BN","x":0.011,"y":2320},{"s":"BN","x":0.0112,"y":2280},{"s":"BN","x":0.0113,"y":2320},{"s":"BN","x":0.0115,"y":2250},{"s":"BN","x":0.0117,"y":2150},{"s":"BN","x":0.0118,"y":2000},{"s":"BN","x":0.0119,"y":1750},{"s":"BN","x":0.012,"y":1400},{"s":"BN","x":0.012,"y":1150},{"s":"BN","x":0.0119,"y":900},{"s":"BN","x":0.0119,"y":760},{"s":"BN","x":0.0118,"y":620},{"s":"BN","x":0.0117,"y":520},{"s":"BN","x":0.0115,"y":400},{"s":"BN","x":0.0113,"y":280},{"s":"BN","x":0.0111,"y":200},{"s":"BN","x":0.0108,"y":110},{"s":"BN","x":0.0105,"y":50},{"s":"BN","x":0.0103,"y":15},{"s":"BN","x":0.0099,"y":0},{"s":"BN","x":0.0096,"y":5},
{"s":"CNT","x":0,"y":0},{"s":"CNT","x":0.0003,"y":10},{"s":"CNT","x":0.0005,"y":40},{"s":"CNT","x":0.0007,"y":20},{"s":"CNT","x":0.0009,"y":60},{"s":"CNT","x":0.0011,"y":50},{"s":"CNT","x":0.0013,"y":110},{"s":"CNT","x":0.0015,"y":130},{"s":"CNT","x":0.0017,"y":170},{"s":"CNT","x":0.0019,"y":200},{"s":"CNT","x":0.0021,"y":230},{"s":"CNT","x":0.0023,"y":260},{"s":"CNT","x":0.0025,"y":290},{"s":"CNT","x":0.0027,"y":320},{"s":"CNT","x":0.0029,"y":350},{"s":"CNT","x":0.0031,"y":380},{"s":"CNT","x":0.0033,"y":420},{"s":"CNT","x":0.0035,"y":460},{"s":"CNT","x":0.0037,"y":500},{"s":"CNT","x":0.0039,"y":540},{"s":"CNT","x":0.0041,"y":590},{"s":"CNT","x":0.0043,"y":630},{"s":"CNT","x":0.0045,"y":670},{"s":"CNT","x":0.0047,"y":720},{"s":"CNT","x":0.0049,"y":770},{"s":"CNT","x":0.0051,"y":820},{"s":"CNT","x":0.0053,"y":870},{"s":"CNT","x":0.0055,"y":920},{"s":"CNT","x":0.0057,"y":960},{"s":"CNT","x":0.0059,"y":1000},{"s":"CNT","x":0.0061,"y":1040},{"s":"CNT","x":0.0063,"y":1080},{"s":"CNT","x":0.0065,"y":1120},{"s":"CNT","x":0.0067,"y":1160},{"s":"CNT","x":0.0069,"y":1200},{"s":"CNT","x":0.007,"y":1180},{"s":"CNT","x":0.0071,"y":1000},{"s":"CNT","x":0.0072,"y":1100},{"s":"CNT","x":0.0073,"y":1050},{"s":"CNT","x":0.0074,"y":1200},{"s":"CNT","x":0.0075,"y":1150},{"s":"CNT","x":0.0076,"y":1280},{"s":"CNT","x":0.0078,"y":1300},{"s":"CNT","x":0.0079,"y":1250},{"s":"CNT","x":0.008,"y":1360},{"s":"CNT","x":0.0082,"y":1380},{"s":"CNT","x":0.0083,"y":1330},{"s":"CNT","x":0.0084,"y":1440},{"s":"CNT","x":0.0086,"y":1460},{"s":"CNT","x":0.0087,"y":1400},{"s":"CNT","x":0.0088,"y":1500},{"s":"CNT","x":0.009,"y":1550},{"s":"CNT","x":0.0091,"y":1500},{"s":"CNT","x":0.0092,"y":1620},{"s":"CNT","x":0.0094,"y":1650},{"s":"CNT","x":0.0095,"y":1580},{"s":"CNT","x":0.0096,"y":1700},{"s":"CNT","x":0.0098,"y":1750},{"s":"CNT","x":0.0099,"y":1650},{"s":"CNT","x":0.01,"y":1780},{"s":"CNT","x":0.0102,"y":1800},{"s":"CNT","x":0.0103,"y":1720},{"s":"CNT","x":0.0104,"y":1850},{"s":"CNT","x":0.0106,"y":1800},{"s":"CNT","x":0.0107,"y":1900},{"s":"CNT","x":0.0108,"y":1780},{"s":"CNT","x":0.0109,"y":1820},{"s":"CNT","x":0.011,"y":1700},{"s":"CNT","x":0.0111,"y":1900},{"s":"CNT","x":0.0112,"y":2020},{"s":"CNT","x":0.0113,"y":1950},{"s":"CNT","x":0.0114,"y":2000},{"s":"CNT","x":0.0115,"y":1850},{"s":"CNT","x":0.0116,"y":1700},{"s":"CNT","x":0.0117,"y":1550},{"s":"CNT","x":0.0118,"y":1400},{"s":"CNT","x":0.0119,"y":1300},{"s":"CNT","x":0.012,"y":1450},{"s":"CNT","x":0.0121,"y":1350},{"s":"CNT","x":0.0122,"y":1250},{"s":"CNT","x":0.0123,"y":1100},{"s":"CNT","x":0.0124,"y":1050},{"s":"CNT","x":0.0125,"y":1250},{"s":"CNT","x":0.0126,"y":1350},{"s":"CNT","x":0.0127,"y":1450},{"s":"CNT","x":0.0128,"y":1400},{"s":"CNT","x":0.013,"y":1550},{"s":"CNT","x":0.0132,"y":1500},{"s":"CNT","x":0.0134,"y":1580},{"s":"CNT","x":0.0136,"y":1530},{"s":"CNT","x":0.0138,"y":1600},{"s":"CNT","x":0.014,"y":1520},{"s":"CNT","x":0.0142,"y":1580},{"s":"CNT","x":0.0144,"y":1500},{"s":"CNT","x":0.0146,"y":1620},{"s":"CNT","x":0.0148,"y":1560},{"s":"CNT","x":0.015,"y":1500},{"s":"CNT","x":0.0152,"y":1580},{"s":"CNT","x":0.0154,"y":1450},{"s":"CNT","x":0.0156,"y":1520},{"s":"CNT","x":0.0158,"y":1560},{"s":"CNT","x":0.0159,"y":1400},{"s":"CNT","x":0.016,"y":1480},{"s":"CNT","x":0.0162,"y":1350},{"s":"CNT","x":0.0164,"y":1400},{"s":"CNT","x":0.0166,"y":1330},{"s":"CNT","x":0.0168,"y":1380},{"s":"CNT","x":0.017,"y":1320},{"s":"CNT","x":0.0172,"y":1360},{"s":"CNT","x":0.0174,"y":1330},{"s":"CNT","x":0.0176,"y":1340},{"s":"CNT","x":0.0179,"y":1300},{"s":"CNT","x":0.0181,"y":1340},{"s":"CNT","x":0.0183,"y":1270},{"s":"CNT","x":0.0185,"y":1200},{"s":"CNT","x":0.0187,"y":1100},{"s":"CNT","x":0.0189,"y":960},{"s":"CNT","x":0.0191,"y":860},{"s":"CNT","x":0.0192,"y":700},{"s":"CNT","x":0.0193,"y":600},{"s":"CNT","x":0.0194,"y":450},{"s":"CNT","x":0.0193,"y":320},{"s":"CNT","x":0.0192,"y":140},{"s":"CNT","x":0.019,"y":50},{"s":"CNT","x":0.0188,"y":0},
{"s":"BN/CNT","x":0,"y":60},{"s":"BN/CNT","x":0.0002,"y":110},{"s":"BN/CNT","x":0.0004,"y":200},{"s":"BN/CNT","x":0.0006,"y":230},{"s":"BN/CNT","x":0.0008,"y":210},{"s":"BN/CNT","x":0.001,"y":270},{"s":"BN/CNT","x":0.0012,"y":250},{"s":"BN/CNT","x":0.0014,"y":340},{"s":"BN/CNT","x":0.0016,"y":420},{"s":"BN/CNT","x":0.0018,"y":450},{"s":"BN/CNT","x":0.002,"y":520},{"s":"BN/CNT","x":0.0022,"y":580},{"s":"BN/CNT","x":0.0024,"y":620},{"s":"BN/CNT","x":0.0026,"y":680},{"s":"BN/CNT","x":0.0028,"y":720},{"s":"BN/CNT","x":0.003,"y":770},{"s":"BN/CNT","x":0.0032,"y":820},{"s":"BN/CNT","x":0.0034,"y":880},{"s":"BN/CNT","x":0.0036,"y":930},{"s":"BN/CNT","x":0.0038,"y":980},{"s":"BN/CNT","x":0.004,"y":1020},{"s":"BN/CNT","x":0.0042,"y":1070},{"s":"BN/CNT","x":0.0044,"y":1120},{"s":"BN/CNT","x":0.0046,"y":1180},{"s":"BN/CNT","x":0.0048,"y":1250},{"s":"BN/CNT","x":0.005,"y":1330},{"s":"BN/CNT","x":0.0051,"y":1220},{"s":"BN/CNT","x":0.0052,"y":1380},{"s":"BN/CNT","x":0.0054,"y":1440},{"s":"BN/CNT","x":0.0055,"y":1380},{"s":"BN/CNT","x":0.0056,"y":1470},{"s":"BN/CNT","x":0.0058,"y":1430},{"s":"BN/CNT","x":0.006,"y":1520},{"s":"BN/CNT","x":0.0062,"y":1560},{"s":"BN/CNT","x":0.0063,"y":1480},{"s":"BN/CNT","x":0.0065,"y":1600},{"s":"BN/CNT","x":0.0066,"y":1560},{"s":"BN/CNT","x":0.0068,"y":1700},{"s":"BN/CNT","x":0.0069,"y":1650},{"s":"BN/CNT","x":0.007,"y":1750},{"s":"BN/CNT","x":0.0071,"y":1680},{"s":"BN/CNT","x":0.0072,"y":1400},{"s":"BN/CNT","x":0.0073,"y":1580},{"s":"BN/CNT","x":0.0075,"y":1780},{"s":"BN/CNT","x":0.0076,"y":1850},{"s":"BN/CNT","x":0.0078,"y":1950},{"s":"BN/CNT","x":0.008,"y":2050},{"s":"BN/CNT","x":0.0082,"y":2130},{"s":"BN/CNT","x":0.0084,"y":2200},{"s":"BN/CNT","x":0.0085,"y":2150},{"s":"BN/CNT","x":0.0087,"y":2260},{"s":"BN/CNT","x":0.0089,"y":2200},{"s":"BN/CNT","x":0.009,"y":2250},{"s":"BN/CNT","x":0.0091,"y":2100},{"s":"BN/CNT","x":0.0093,"y":2230},{"s":"BN/CNT","x":0.0095,"y":2270},{"s":"BN/CNT","x":0.0096,"y":2180},{"s":"BN/CNT","x":0.0097,"y":2120},{"s":"BN/CNT","x":0.0099,"y":2200},{"s":"BN/CNT","x":0.0101,"y":2150},{"s":"BN/CNT","x":0.0103,"y":2300},{"s":"BN/CNT","x":0.0104,"y":2250},{"s":"BN/CNT","x":0.0106,"y":2400},{"s":"BN/CNT","x":0.0107,"y":2300},{"s":"BN/CNT","x":0.0108,"y":2200},{"s":"BN/CNT","x":0.0109,"y":1950},{"s":"BN/CNT","x":0.011,"y":1800},{"s":"BN/CNT","x":0.0111,"y":1600},{"s":"BN/CNT","x":0.0112,"y":1500},{"s":"BN/CNT","x":0.0113,"y":1600},{"s":"BN/CNT","x":0.0114,"y":1420},{"s":"BN/CNT","x":0.0115,"y":1550},{"s":"BN/CNT","x":0.0117,"y":1380},{"s":"BN/CNT","x":0.0118,"y":1480},{"s":"BN/CNT","x":0.0119,"y":1400},{"s":"BN/CNT","x":0.012,"y":1300},{"s":"BN/CNT","x":0.0121,"y":1450},{"s":"BN/CNT","x":0.0122,"y":1250},{"s":"BN/CNT","x":0.0123,"y":1300},{"s":"BN/CNT","x":0.0124,"y":1180},{"s":"BN/CNT","x":0.0126,"y":1150},{"s":"BN/CNT","x":0.0127,"y":1050},{"s":"BN/CNT","x":0.0128,"y":980},{"s":"BN/CNT","x":0.0129,"y":880},{"s":"BN/CNT","x":0.013,"y":750},{"s":"BN/CNT","x":0.013,"y":620},{"s":"BN/CNT","x":0.0129,"y":480},{"s":"BN/CNT","x":0.0128,"y":330},{"s":"BN/CNT","x":0.0126,"y":250},{"s":"BN/CNT","x":0.0123,"y":183},{"s":"BN/CNT","x":0.012,"y":130},{"s":"BN/CNT","x":0.0116,"y":87},{"s":"BN/CNT","x":0.0113,"y":50},{"s":"BN/CNT","x":0.011,"y":15},{"s":"BN/CNT","x":0.0107,"y":0},{"s":"BN/CNT","x":0.0104,"y":0}
]
},
"spacing": 21,
"resolve": {"scale": {"color": "independent"}, "legend": {"color": "independent"}},
"vconcat": [
{
 "width": 346, "height": 173,
 "encoding": {
  "x": {"field": "x", "type": "quantitative", "scale": {"domain": [0, 0.02]}, "axis": {"values": [0, 0.005, 0.01, 0.015, 0.02], "format": "~g", "title": "Displacement (m)", "labelOverlap": false}},
  "y": {"field": "y", "type": "quantitative", "scale": {"domain": [0, 2500]}, "axis": {"values": [0, 500, 1000, 1500, 2000, 2500], "labelExpr": "datum.value", "title": "Force (N)", "labelOverlap": false}}
 },
 "layer": [
  {"data": {"name": "a"}, "mark": {"type": "line"},
   "encoding": {
    "color": {"field": "s", "type": "nominal", "scale": {"domain": ["NEAT", "BN", "CNT", "BN/CNT"], "range": ["#3f9cf2", "#ea3550", "#6ee83c", "#7452f0"]}, "legend": {"title": null, "legendX": 260, "legendY": 1.5}},
    "order": {"value": null}}},
  {"data": {"values": [{"x": 0, "y": 2500, "x2": 0.00135, "y2": 2210}]}, "mark": {"type": "rect", "fill": "white", "stroke": "#222", "strokeWidth": 1.5},
   "encoding": {"x2": {"field": "x2"}, "y2": {"field": "y2"}}},
  {"data": {"values": [{"x": 0.000675, "y": 2355, "t": "(a)"}]}, "mark": {"type": "text", "font": "Liberation Sans", "fontSize": 14, "color": "#222", "align": "center", "baseline": "middle"},
   "encoding": {"text": {"field": "t"}}}
 ]
},
{
 "width": 356, "height": 171,
 "encoding": {
  "x": {"field": "x", "type": "quantitative", "scale": {"domain": [0, 0.02]}, "axis": {"values": [0, 0.005, 0.01, 0.015, 0.02], "format": "~g", "title": "Displacement (m)", "labelOverlap": false}},
  "y": {"field": "y", "type": "quantitative", "scale": {"domain": [0, 2500]}, "axis": {"values": [0, 500, 1000, 1500, 2000, 2500], "labelExpr": "datum.value", "title": "Force (N)", "labelOverlap": false}}
 },
 "layer": [
  {"data": {"name": "b"}, "mark": {"type": "line"},
   "encoding": {
    "color": {"field": "s", "type": "nominal", "scale": {"domain": ["NEAT", "BN", "CNT", "BN/CNT"], "range": ["#3f9cf2", "#ea3550", "#6ee83c", "#7452f0"]}, "legend": {"title": null, "legendX": 270, "legendY": 1}},
    "order": {"value": null}}},
  {"data": {"values": [{"x": 0, "y": 2500, "x2": 0.00127, "y2": 2183}]}, "mark": {"type": "rect", "fill": "white", "stroke": "#222", "strokeWidth": 1.5},
   "encoding": {"x2": {"field": "x2"}, "y2": {"field": "y2"}}},
  {"data": {"values": [{"x": 0.000635, "y": 2341, "t": "(b)"}]}, "mark": {"type": "text", "font": "Liberation Sans", "fontSize": 14, "color": "#222", "align": "center", "baseline": "middle"},
   "encoding": {"text": {"field": "t"}}}
 ]
},
{
 "width": 356, "height": 172,
 "encoding": {
  "x": {"field": "x", "type": "quantitative", "scale": {"domain": [0, 0.02]}, "axis": {"values": [0, 0.005, 0.01, 0.015, 0.02], "format": "~g", "title": "Displacement (m)", "labelOverlap": false}},
  "y": {"field": "y", "type": "quantitative", "scale": {"domain": [0, 2500]}, "axis": {"values": [0, 500, 1000, 1500, 2000, 2500], "labelExpr": "datum.value", "title": "Force (N)", "labelOverlap": false}}
 },
 "layer": [
  {"data": {"name": "c"}, "mark": {"type": "line"},
   "encoding": {
    "color": {"field": "s", "type": "nominal", "scale": {"domain": ["NEAT", "BN", "CNT", "BN/CNT"], "range": ["#3f9cf2", "#ea3550", "#6ee83c", "#7452f0"]}, "legend": {"title": null, "legendX": 277.5, "legendY": 4, "symbolType": "M-2.07,0H2.07", "symbolSize": 196, "labelOffset": 8.5, "rowPadding": 1.5}},
    "order": {"value": null}}},
  {"data": {"values": [{"x": 0, "y": 2500, "x2": 0.00137, "y2": 2130}]}, "mark": {"type": "rect", "fill": "white", "stroke": "#222", "strokeWidth": 1.5},
   "encoding": {"x2": {"field": "x2"}, "y2": {"field": "y2"}}},
  {"data": {"values": [{"x": 0.000685, "y": 2315, "t": "(c)"}]}, "mark": {"type": "text", "font": "Liberation Sans", "fontSize": 14, "color": "#222", "align": "center", "baseline": "middle"},
   "encoding": {"text": {"field": "t"}}}
 ]
}
]
}
